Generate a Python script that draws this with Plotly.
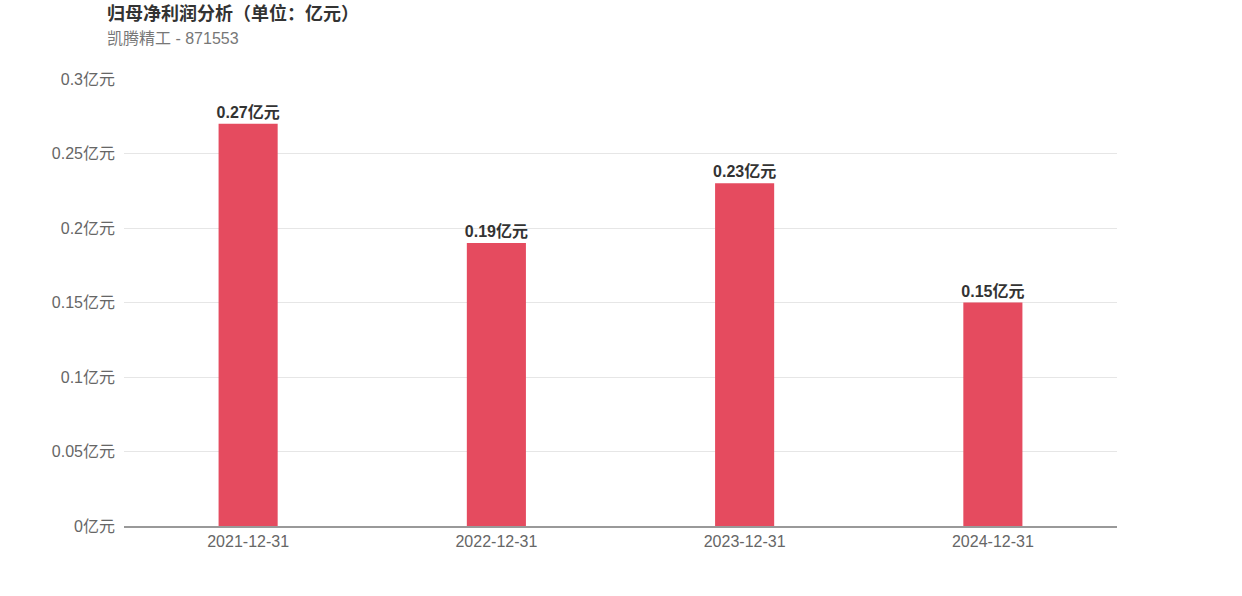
import plotly.graph_objects as go

categories = ["2021-12-31", "2022-12-31", "2023-12-31", "2024-12-31"]
values = [0.27, 0.19, 0.23, 0.15]
labels = ["0.27亿元", "0.19亿元", "0.23亿元", "0.15亿元"]
y_tickvals = [0, 0.05, 0.1, 0.15, 0.2, 0.25, 0.3]
y_ticktext = ["0亿元", "0.05亿元", "0.1亿元", "0.15亿元", "0.2亿元", "0.25亿元", "0.3亿元"]

FONT = "Liberation Sans, Arial, Noto Sans CJK SC, sans-serif"

fig = go.Figure(go.Bar(
    x=categories, y=values, text=labels, textposition="outside",
    textfont=dict(size=16, color="#333333", family=FONT, weight="bold"),
    marker=dict(color="#e54b5f", line=dict(width=0)),
    width=0.238, cliponaxis=False, constraintext="none", hoverinfo="skip",
))

W, H = 1242, 596
L, R, T, B = 124, 125, 79, 70
ph = H - T - B
pw = W - L - R

fig.update_layout(
    width=W, height=H,
    margin=dict(l=L, r=R, t=T, b=B, autoexpand=False),
    paper_bgcolor="white", plot_bgcolor="white",
    font=dict(family=FONT, size=16, color="#666666"),
    showlegend=False,
    xaxis=dict(type="category", showgrid=False, showline=True, linecolor="#999999",
               linewidth=1.5, ticks="", tickfont=dict(size=16, color="#666666")),
    yaxis=dict(range=[0, 0.3], tickvals=y_tickvals, ticktext=y_ticktext,
               showgrid=True, gridcolor="#e6e6e6", gridwidth=1, zeroline=False,
               showline=False, ticks="", ticklabelstandoff=8,
               tickfont=dict(size=16, color="#666666")),
    annotations=[
        dict(text="<b>归母净利润分析（单位：亿元）</b>", xref="paper", yref="paper",
             x=(105 - L) / pw, y=1 + (T - 13) / ph, xanchor="left", yanchor="middle",
             showarrow=False, font=dict(size=18, color="#333333", family=FONT)),
        dict(text="凯腾精工 - 871553", xref="paper", yref="paper",
             x=(105 - L) / pw, y=1 + (T - 39) / ph, xanchor="left", yanchor="middle",
             showarrow=False, font=dict(size=16, color="#777777", family=FONT)),
    ],
)

fig.write_html("out.html", config={"displayModeBar": False},
               post_script="document.body.style.margin='0';")
